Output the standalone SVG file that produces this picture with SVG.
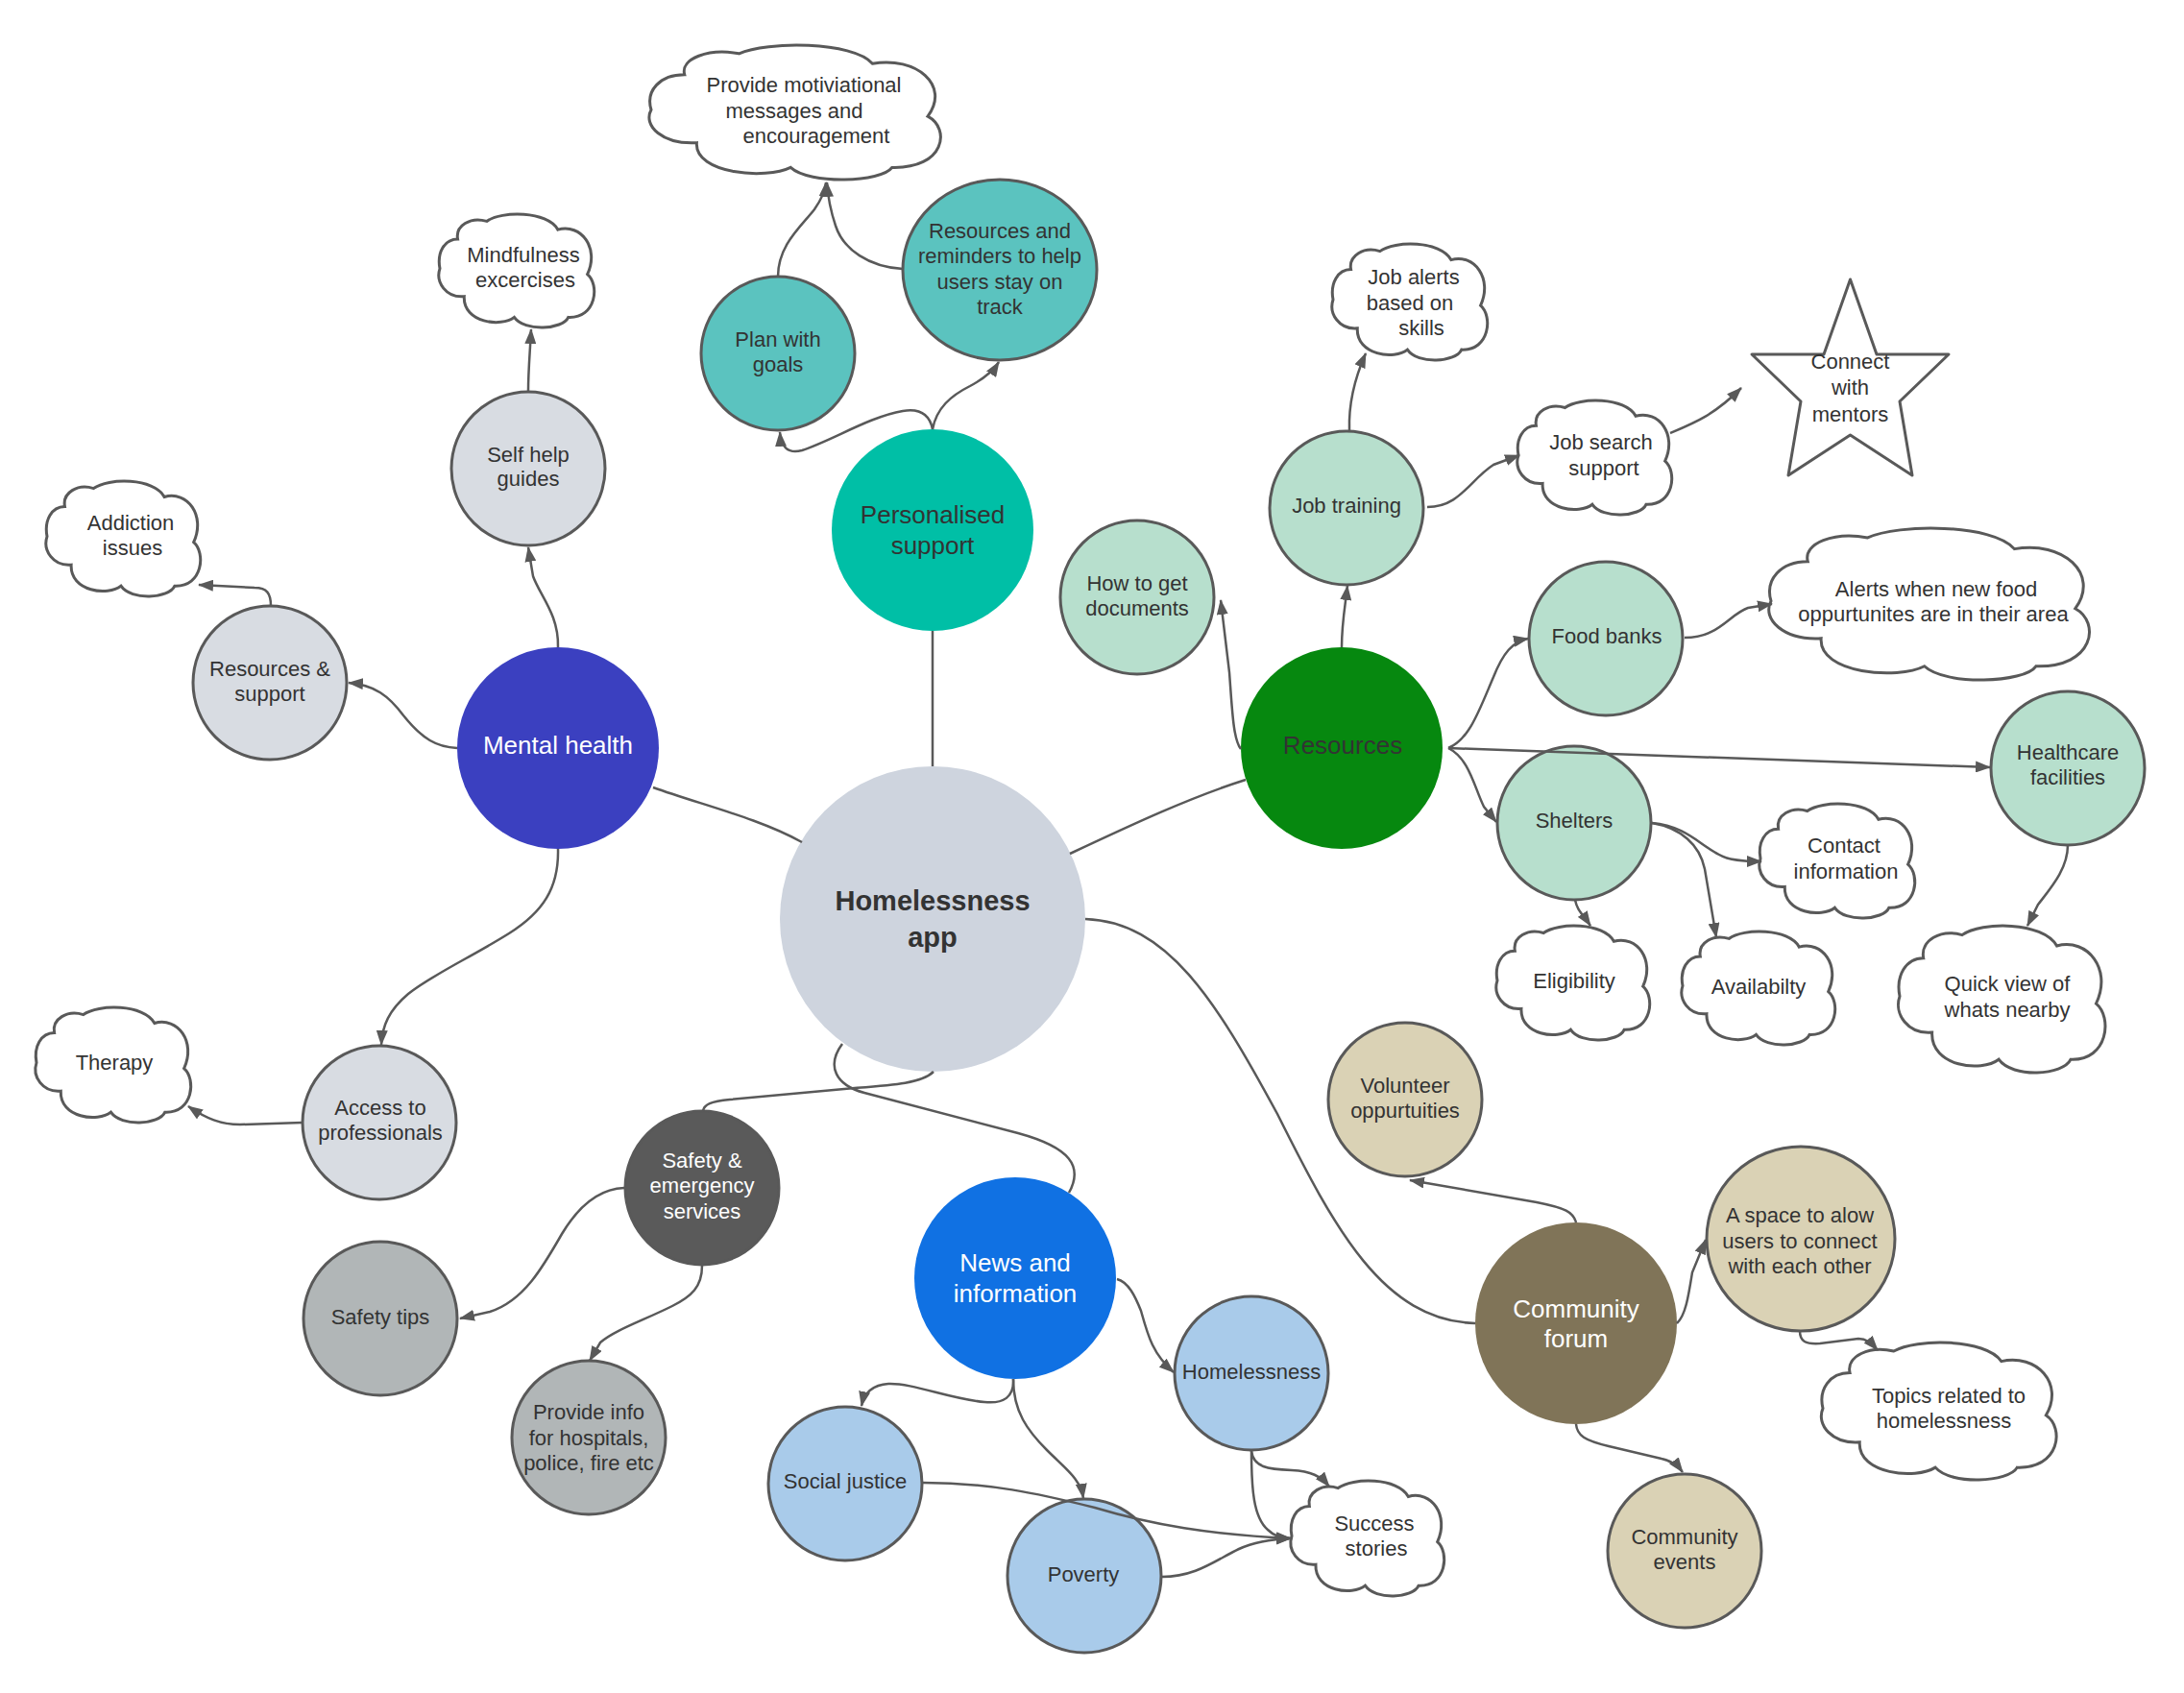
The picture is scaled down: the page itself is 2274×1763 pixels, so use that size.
<svg xmlns="http://www.w3.org/2000/svg" xmlns:xlink="http://www.w3.org/1999/xlink" width="2274" height="1763" viewBox="0 0 2274 1763">
<style>
.conn{fill:none;stroke:#595959;stroke-width:2.5}
.arr{marker-end:url(#ah)}
.sec{stroke:#595959;stroke-width:3}
.cloud{fill:#fff;stroke:#595959;stroke-width:3}
.t{font-family:"Liberation Sans",Arial,sans-serif;font-size:22px;fill:#333;text-anchor:middle}
.tm{font-size:26px}
.tw{fill:#fff}
.tb{font-size:29px;font-weight:bold}
.g1{fill:#d8dce2}
.g2{fill:#b1b6b7}
.tl{fill:#5bc3bf}
.gr{fill:#b7dfcd}
.bl{fill:#a9cbea}
.tn{fill:#dad2b5}
</style>
<defs>
<marker id="ah" viewBox="0 0 16 12" refX="15" refY="6" markerWidth="16" markerHeight="12" markerUnits="userSpaceOnUse" orient="auto"><path d="M0,0 L16,6 L0,12 z" fill="#595959"/></marker>
<symbol id="cloud" viewBox="0 0 100 100" preserveAspectRatio="none" overflow="visible"><path vector-effect="non-scaling-stroke" d="M 0 48 C -2 34, 3 22, 11.6 22 C 10 10, 20 2, 30.5 6.3 C 40 -3, 70 -3, 76.8 13.7 C 92 8, 104 30, 96 53 C 104 62, 102 92, 83.6 91 C 80 102, 55 104, 48.4 91 C 40 100, 15 96, 15.8 72.6 C 4 74, -3 60, 0 48 Z"/></symbol>
</defs>
<rect width="2274" height="1763" fill="#fff"/>
<g id="n-app"><circle cx="971" cy="957" r="159" fill="#ced4de"/><text class="t tb" x="971" y="948">Homelessness</text><text class="t tb" x="971" y="986">app</text></g>
<g id="n-personalised"><circle cx="971" cy="552" r="105" fill="#00bfa6"/><text class="t tm" x="971" y="545">Personalised</text><text class="t tm" x="971" y="577">support</text></g>
<g id="n-mental"><circle cx="581" cy="779" r="105" fill="#3b40c0"/><text class="t tm tw" x="581" y="785">Mental health</text></g>
<g id="n-resources"><circle cx="1397" cy="779" r="105" fill="#06880f"/><text class="t tm" x="1398" y="785">Resources</text></g>
<g id="n-news"><circle cx="1057" cy="1331" r="105" fill="#1071e3"/><text class="t tm tw" x="1057" y="1324">News and</text><text class="t tm tw" x="1057" y="1356">information</text></g>
<g id="n-community"><circle cx="1641" cy="1378" r="105" fill="#807458"/><text class="t tm tw" x="1641" y="1372">Community</text><text class="t tm tw" x="1641" y="1403">forum</text></g>
<g id="n-safety"><circle cx="731" cy="1237" r="80" fill="#5a5a5a" class="sec"/><text class="t tw" x="731" y="1216">Safety &amp;</text><text class="t tw" x="731" y="1242">emergency</text><text class="t tw" x="731" y="1269">services</text></g>
<g id="n-selfhelp"><circle cx="550" cy="488" r="80" class="g1 sec"/><text class="t" x="550" y="481">Self help</text><text class="t" x="550" y="506">guides</text></g>
<g id="n-ressupport"><circle cx="281" cy="711" r="80" class="g1 sec"/><text class="t" x="281" y="704">Resources &amp;</text><text class="t" x="281" y="730">support</text></g>
<g id="n-access"><circle cx="395" cy="1169" r="80" class="g1 sec"/><text class="t" x="396" y="1161">Access to</text><text class="t" x="396" y="1187">professionals</text></g>
<g id="n-mindfulness"><use xlink:href="#cloud" href="#cloud" x="458" y="223" width="160" height="118" class="cloud"/><text class="t" x="545" y="273">Mindfulness</text><text class="t" x="547" y="299">excercises</text></g>
<g id="n-addiction"><use xlink:href="#cloud" href="#cloud" x="49" y="501" width="159" height="120" class="cloud"/><text class="t" x="136" y="552">Addiction</text><text class="t" x="138" y="578">issues</text></g>
<g id="n-therapy"><use xlink:href="#cloud" href="#cloud" x="38" y="1049" width="160" height="120" class="cloud"/><text class="t" x="119" y="1114">Therapy</text></g>
<g id="n-plan"><circle cx="810" cy="368" r="80" class="tl sec"/><text class="t" x="810" y="361">Plan with</text><text class="t" x="810" y="387">goals</text></g>
<g id="n-reminders"><ellipse cx="1041" cy="281" rx="101" ry="94" class="tl sec"/><text class="t" x="1041" y="248">Resources and</text><text class="t" x="1041" y="274">reminders to help</text><text class="t" x="1041" y="301">users stay on</text><text class="t" x="1041" y="327">track</text></g>
<g id="n-motivation"><use xlink:href="#cloud" href="#cloud" x="678" y="47" width="300" height="140" class="cloud"/><text class="t" x="837" y="96">Provide motiviational</text><text class="t" x="827" y="123">messages and</text><text class="t" x="850" y="149">encouragement</text></g>
<g id="n-documents"><circle cx="1184" cy="622" r="80" class="gr sec"/><text class="t" x="1184" y="615">How to get</text><text class="t" x="1184" y="641">documents</text></g>
<g id="n-jobtraining"><circle cx="1402" cy="529" r="80" class="gr sec"/><text class="t" x="1402" y="534">Job training</text></g>
<g id="n-jobalerts"><use xlink:href="#cloud" href="#cloud" x="1388" y="254" width="160" height="121" class="cloud"/><text class="t" x="1472" y="296">Job alerts</text><text class="t" x="1468" y="323">based on</text><text class="t" x="1480" y="349">skills</text></g>
<g id="n-jobsearch"><use xlink:href="#cloud" href="#cloud" x="1581" y="417" width="159" height="119" class="cloud"/><text class="t" x="1667" y="468">Job search</text><text class="t" x="1670" y="495">support</text></g>
<g id="n-mentors"><polygon points="1926.5,291 1954,369 2029,369 1978,418 1991,495 1926.5,453 1862,495 1875,418 1824,369 1899,369" fill="#fff" stroke="#595959" stroke-width="3" stroke-linejoin="round"/><text class="t" x="1926.5" y="384">Connect</text><text class="t" x="1926.5" y="411">with</text><text class="t" x="1926.5" y="439">mentors</text></g>
<g id="n-foodbanks"><circle cx="1672" cy="665" r="80" class="gr sec"/><text class="t" x="1673" y="670">Food banks</text></g>
<g id="n-foodalerts"><use xlink:href="#cloud" href="#cloud" x="1844" y="550" width="330" height="158" class="cloud"/><text class="t" x="2016" y="621">Alerts when new food</text><text class="t" x="2013" y="647">oppurtunites are in their area</text></g>
<g id="n-shelters"><circle cx="1639" cy="857" r="80" class="gr sec"/><text class="t" x="1639" y="862">Shelters</text></g>
<g id="n-contact"><use xlink:href="#cloud" href="#cloud" x="1833" y="837" width="160" height="119" class="cloud"/><text class="t" x="1920" y="888">Contact</text><text class="t" x="1922" y="915">information</text></g>
<g id="n-eligibility"><use xlink:href="#cloud" href="#cloud" x="1559" y="964" width="158" height="119" class="cloud"/><text class="t" x="1639" y="1029">Eligibility</text></g>
<g id="n-availability"><use xlink:href="#cloud" href="#cloud" x="1752" y="970" width="158" height="118" class="cloud"/><text class="t" x="1831" y="1035">Availabilty</text></g>
<g id="n-healthcare"><circle cx="2153" cy="800" r="80" class="gr sec"/><text class="t" x="2153" y="791">Healthcare</text><text class="t" x="2153" y="817">facilities</text></g>
<g id="n-quickview"><use xlink:href="#cloud" href="#cloud" x="1978" y="964" width="213" height="153" class="cloud"/><text class="t" x="2090" y="1032">Quick view of</text><text class="t" x="2090" y="1059">whats nearby</text></g>
<g id="n-volunteer"><circle cx="1463" cy="1145" r="80" class="tn sec"/><text class="t" x="1463" y="1138">Volunteer</text><text class="t" x="1463" y="1164">oppurtuities</text></g>
<g id="n-space"><ellipse cx="1875" cy="1290" rx="98" ry="96" class="tn sec"/><text class="t" x="1874" y="1273">A space to alow</text><text class="t" x="1874" y="1300">users to connect</text><text class="t" x="1874" y="1326">with each other</text></g>
<g id="n-topics"><use xlink:href="#cloud" href="#cloud" x="1898" y="1398" width="242" height="143" class="cloud"/><text class="t" x="2029" y="1461">Topics related to</text><text class="t" x="2024" y="1487">homelessness</text></g>
<g id="n-events"><circle cx="1754" cy="1615" r="80" class="tn sec"/><text class="t" x="1754" y="1608">Community</text><text class="t" x="1754" y="1634">events</text></g>
<g id="n-success"><use xlink:href="#cloud" href="#cloud" x="1345" y="1542" width="158" height="120" class="cloud"/><text class="t" x="1431" y="1594">Success</text><text class="t" x="1433" y="1620">stories</text></g>
<g id="n-social"><circle cx="880" cy="1545" r="80" class="bl sec"/><text class="t" x="880" y="1550">Social justice</text></g>
<g id="n-poverty"><circle cx="1129" cy="1641" r="80" class="bl sec"/><text class="t" x="1128" y="1647">Poverty</text></g>
<g id="n-homelessness"><circle cx="1303" cy="1430" r="80" class="bl sec"/><text class="t" x="1303" y="1436">Homelessness</text></g>
<g id="n-safetytips"><circle cx="396" cy="1373" r="80" class="g2 sec"/><text class="t" x="396" y="1379">Safety tips</text></g>
<g id="n-provideinfo"><circle cx="613" cy="1497" r="80" class="g2 sec"/><text class="t" x="613" y="1478">Provide info</text><text class="t" x="613" y="1505">for hospitals,</text><text class="t" x="613" y="1531">police, fire etc</text></g>
<g id="connectors">
<path class="conn" d="M 971 657 L 971 798"/>
<path class="conn" d="M 680 820 C 730 838, 790 852, 835 877"/>
<path class="conn" d="M 1114 889 C 1180 858, 1240 830, 1297 812"/>
<path class="conn" d="M 972 1116 C 960 1128, 930 1130, 890 1133 L 760 1145 C 740 1147, 733 1150, 732 1157"/>
<path class="conn" d="M 877 1087 C 860 1110, 870 1130, 900 1138 L 1060 1180 C 1115 1195, 1128 1215, 1113 1242"/>
<path class="conn" d="M 1130 957 C 1215 960, 1265 1040, 1330 1160 C 1390 1280, 1440 1375, 1536 1378"/>
<path class="conn arr" d="M 971 447 C 968 432, 958 425, 940 428 C 905 434, 868 458, 835 469 C 820 473, 813 465, 812 450"/>
<path class="conn arr" d="M 971 447 C 975 425, 990 412, 1010 402 C 1025 394, 1035 385, 1040 377"/>
<path class="conn arr" d="M 810 288 C 810 255, 835 235, 848 218 C 855 208, 859 200, 860 190"/>
<path class="conn arr" d="M 940 280 C 905 278, 878 260, 870 235 C 865 220, 862 205, 861 190"/>
<path class="conn arr" d="M 550 407 C 550 385, 552 365, 553 343"/>
<path class="conn arr" d="M 581 674 C 582 640, 562 620, 555 600 L 550 570"/>
<path class="conn arr" d="M 282 631 C 282 618, 278 612, 265 612 L 207 609"/>
<path class="conn arr" d="M 476 779 C 455 778, 440 770, 420 745 C 405 725, 390 713, 363 711"/>
<path class="conn arr" d="M 581 884 C 582 925, 565 950, 530 972 C 490 997, 450 1015, 425 1035 C 405 1052, 398 1068, 397 1088"/>
<path class="conn arr" d="M 315 1169 L 250 1171 C 230 1171, 215 1165, 196 1152"/>
<path class="conn arr" d="M 650 1237 C 620 1238, 600 1260, 585 1285 C 565 1320, 545 1355, 510 1366 L 479 1373"/>
<path class="conn arr" d="M 731 1318 C 731 1340, 720 1350, 700 1360 C 670 1375, 640 1385, 625 1398 L 614 1417"/>
<path class="conn arr" d="M 1397 674 C 1397 650, 1400 635, 1403 610"/>
<path class="conn arr" d="M 1292 780 C 1284 770, 1283 740, 1280 700 L 1271 625"/>
<path class="conn arr" d="M 1405 448 C 1404 420, 1410 395, 1422 368"/>
<path class="conn arr" d="M 1486 528 C 1520 528, 1530 500, 1555 484 L 1582 474"/>
<path class="conn arr" d="M 1739 451 C 1765 440, 1785 432, 1813 404"/>
<path class="conn arr" d="M 1508 779 C 1530 770, 1540 740, 1555 705 C 1565 680, 1575 668, 1591 665"/>
<path class="conn arr" d="M 1508 779 L 2072 799"/>
<path class="conn arr" d="M 1508 779 C 1530 790, 1535 820, 1545 840 L 1558 856"/>
<path class="conn arr" d="M 1754 664 C 1790 664, 1800 640, 1820 633 L 1845 629"/>
<path class="conn arr" d="M 1720 857 C 1755 860, 1770 880, 1790 890 C 1800 896, 1815 897, 1834 897"/>
<path class="conn arr" d="M 1720 857 C 1750 862, 1770 880, 1775 905 L 1787 976"/>
<path class="conn arr" d="M 1640 937 C 1642 948, 1648 952, 1656 964"/>
<path class="conn arr" d="M 2153 880 C 2153 905, 2135 925, 2122 942 L 2111 964"/>
<path class="conn arr" d="M 1163 1332 C 1175 1335, 1182 1350, 1188 1365 C 1195 1390, 1200 1410, 1222 1429"/>
<path class="conn arr" d="M 1055 1436 C 1056 1455, 1045 1462, 1025 1460 C 990 1457, 950 1440, 925 1441 C 910 1442, 900 1450, 897 1464"/>
<path class="conn arr" d="M 1055 1436 C 1055 1470, 1070 1490, 1090 1510 C 1110 1530, 1125 1540, 1128 1560"/>
<path class="conn arr" d="M 1303 1511 C 1305 1528, 1320 1530, 1345 1531 C 1365 1532, 1375 1537, 1384 1548"/>
<path class="conn arr" d="M 1303 1511 C 1303 1550, 1305 1580, 1320 1593 C 1327 1600, 1335 1602, 1344 1602"/>
<path class="conn arr" d="M 961 1544 C 1030 1544, 1080 1555, 1140 1570 C 1200 1588, 1260 1598, 1344 1602"/>
<path class="conn arr" d="M 1210 1642 C 1245 1642, 1265 1625, 1290 1613 C 1305 1606, 1320 1603, 1344 1602"/>
<path class="conn arr" d="M 1641 1273 C 1638 1262, 1630 1258, 1600 1252 L 1468 1229"/>
<path class="conn arr" d="M 1746 1378 C 1755 1370, 1758 1350, 1762 1325 L 1776 1291"/>
<path class="conn arr" d="M 1874 1386 C 1874 1397, 1880 1400, 1895 1399 L 1935 1394 C 1943 1394, 1948 1398, 1955 1406"/>
<path class="conn arr" d="M 1641 1483 C 1642 1495, 1650 1500, 1675 1506 L 1730 1519 C 1740 1521, 1746 1525, 1752 1533"/>
</g>
</svg>
